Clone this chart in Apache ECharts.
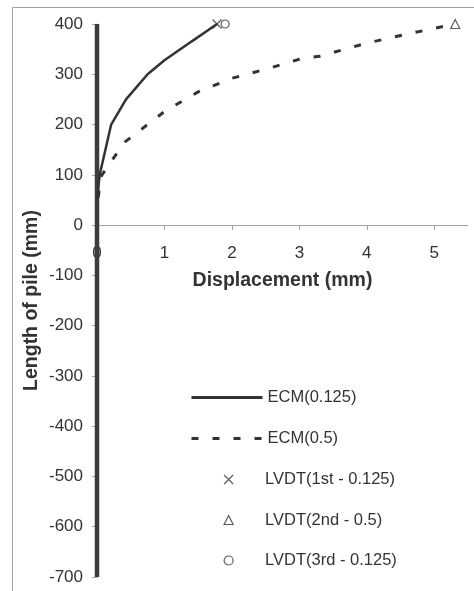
<!DOCTYPE html>
<html>
<head>
<meta charset="utf-8">
<script src="https://cdn.jsdelivr.net/npm/echarts@6/dist/echarts.min.js"></script>
<style>
html,body{margin:0;padding:0;background:#fff;}
#chart{width:474px;height:591px;}
</style>
</head>
<body>
<div id="chart"></div>
<script>
// Data
var xTicks = [0, 1, 2, 3, 4, 5];
var pileLine = [[0, 400], [0, -700]];
var ecm0125 = [[0.0, 50], [0.04, 100], [0.21, 200], [0.43, 250], [0.75, 300], [1.0, 328], [1.4, 365], [1.78, 400]];
var ecm05 = [[0.02, 55], [0.05, 95], [0.2, 125], [0.42, 166], [0.75, 200], [1.0, 226], [1.5, 265], [2.0, 292], [2.5, 310], [3.0, 330], [3.3, 336], [4.0, 362], [4.6, 380], [5.31, 400]];
var lvdt1 = [[1.78, 400]];
var lvdt2 = [[5.31, 400]];
var lvdt3 = [[1.9, 400]];
var names = ['ECM(0.125)', 'ECM(0.5)', 'LVDT(1st - 0.125)', 'LVDT(2nd - 0.5)', 'LVDT(3rd - 0.125)'];

var FONT = '"Liberation Sans", Arial, sans-serif';
var DARK = '#333333';
var AXIS = '#a8a0a0';

var chart = echarts.init(document.getElementById('chart'), null, {renderer: 'canvas'});
chart.setOption({
  animation: false,
  backgroundColor: '#ffffff',
  graphic: [{
    type: 'rect', silent: true, z: -10,
    shape: {x: 12.5, y: 7.5, width: 600, height: 700},
    style: {fill: 'none', stroke: AXIS, lineWidth: 1}
  }],
  grid: [
    {left: 97, right: 6, top: 24, bottom: 14, containLabel: false, outerBoundsMode: 'none'},
    {left: 97, right: 6, top: 24, height: 201, containLabel: false, outerBoundsMode: 'none'}
  ],
  xAxis: [{
    gridIndex: 0, type: 'value', min: 0, max: 5.5, interval: 1, show: false
  }, {
    gridIndex: 1, type: 'value', min: 0, max: 5.5, interval: 1,
    name: 'Displacement (mm)', nameLocation: 'middle', nameGap: 46, nameMoveOverlap: false,
    nameTextStyle: {fontFamily: FONT, fontSize: 19.5, fontWeight: 'bold', color: DARK},
    axisLine: {show: true, lineStyle: {color: AXIS, width: 1}},
    axisTick: {show: true, length: 5, lineStyle: {color: AXIS}, customValues: xTicks},
    axisLabel: {fontFamily: FONT, fontSize: 17, color: DARK, margin: 20, customValues: xTicks},
    splitLine: {show: false}
  }],
  yAxis: [{
    gridIndex: 0, type: 'value', min: -700, max: 400, interval: 100,
    name: 'Length of pile (mm)', nameLocation: 'middle', nameGap: 55, nameMoveOverlap: false,
    nameTextStyle: {fontFamily: FONT, fontSize: 19.5, fontWeight: 'bold', color: DARK},
    axisLine: {show: true, onZero: false, lineStyle: {color: AXIS, width: 1}},
    axisTick: {show: true, length: 5, lineStyle: {color: AXIS}},
    axisLabel: {fontFamily: FONT, fontSize: 17, color: DARK, margin: 14},
    splitLine: {show: false}
  }, {
    gridIndex: 1, type: 'value', min: 0, max: 400, show: false
  }],
  legend: [{
    data: [names[0], names[1]],
    orient: 'vertical', left: 190, top: 389, padding: 0,
    itemWidth: 71, itemHeight: 16, itemGap: 24,
    lineStyle: {width: 3},
    itemStyle: {opacity: 0, borderWidth: 0},
    textStyle: {fontFamily: FONT, fontSize: 16.5, lineHeight: 16, color: DARK}
  }, {
    data: [names[2], names[3], names[4]],
    orient: 'vertical', left: 223.5, top: 471, padding: 0,
    itemWidth: 9, itemHeight: 9, itemGap: 23.5,
    itemStyle: {borderWidth: 1.2},
    textStyle: {fontFamily: FONT, fontSize: 16.5, lineHeight: 16, color: DARK, padding: [0, 0, 0, 27]}
  }],
  series: [{
    name: 'pile', type: 'line', data: pileLine, symbol: 'none', clip: false, z: 1,
    lineStyle: {color: '#3b3b42', width: 4.5, cap: 'butt'}, silent: true
  }, {
    name: names[0], type: 'line', data: ecm0125, symbol: 'none', clip: false, z: 3,
    color: DARK, lineStyle: {color: DARK, width: 2.5}
  }, {
    name: names[1], type: 'line', data: ecm05, symbol: 'none', clip: false, z: 3,
    color: DARK, lineStyle: {color: DARK, width: 3, type: [7, 14]}
  }, {
    name: names[2], type: 'scatter', data: lvdt1, clip: false, z: 4,
    symbol: 'path://M0,0L10,10M10,0L0,10', symbolSize: 9,
    itemStyle: {color: 'transparent', borderColor: DARK, borderWidth: 1.2}
  }, {
    name: names[3], type: 'scatter', data: lvdt2, clip: false, z: 4,
    symbol: 'triangle', symbolSize: 9,
    itemStyle: {color: 'transparent', borderColor: DARK, borderWidth: 1.2}
  }, {
    name: names[4], type: 'scatter', data: lvdt3, clip: false, z: 4,
    symbol: 'circle', symbolSize: 8,
    itemStyle: {color: 'transparent', borderColor: DARK, borderWidth: 1.2}
  }]
});
</script>
</body>
</html>
